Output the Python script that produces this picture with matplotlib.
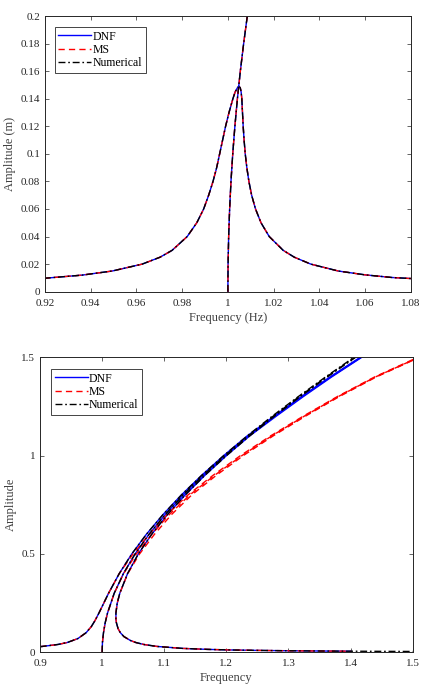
import matplotlib
matplotlib.use("Agg")
import matplotlib.pyplot as plt

plt.rcParams['font.family'] = ['Liberation Serif', 'DejaVu Serif']

# ---- top panel: weakly nonlinear response (all three methods coincide) ----
top_resp_freq = [0.9195, 0.9361, 0.9494, 0.9625, 0.9703, 0.9756, 0.9822, 0.9864,
                 0.9894, 0.9916, 0.9935, 0.9951, 0.9964, 0.9977, 0.9990, 1.0005,
                 1.0022, 1.0032, 1.0042, 1.0048, 1.0054, 1.0058, 1.0061, 1.0064,
                 1.0067, 1.0071, 1.0076, 1.0083, 1.0092, 1.0104, 1.0121, 1.0145,
                 1.0181, 1.0242, 1.0291, 1.0363, 1.0483, 1.0601, 1.0718, 1.0795,
                 1.0810]
top_resp_amp = [0.0097, 0.012, 0.015, 0.020, 0.025, 0.030, 0.040, 0.050,
                0.060, 0.070, 0.080, 0.090, 0.100, 0.110, 0.120, 0.130,
                0.140, 0.145, 0.148, 0.149, 0.148, 0.145, 0.140, 0.130,
                0.120, 0.110, 0.100, 0.090, 0.080, 0.070, 0.060, 0.050,
                0.040, 0.030, 0.025, 0.020, 0.015, 0.0122, 0.0103, 0.0096,
                0.0095]
top_bb_freq = [1.0, 1.00009, 1.00034, 1.00077, 1.00136, 1.00213, 1.00307,
               1.00417, 1.00545, 1.0069, 1.0085, 1.00937]
top_bb_amp = [0, 0.02, 0.04, 0.06, 0.08, 0.10, 0.12, 0.14, 0.16, 0.18, 0.20, 0.21]

# ---- bottom panel: strongly nonlinear response ----
num_resp_freq = [0.8997, 0.9039, 0.9291, 0.9440, 0.9610, 0.9743, 0.9824, 0.9883,
                 0.9949, 1.0026, 1.0103, 1.0275, 1.0477, 1.0712, 1.0979, 1.1276,
                 1.1603, 1.1956, 1.2334, 1.2735, 1.3157, 1.3597, 1.4054, 1.4527,
                 1.4550, 1.4080, 1.3625, 1.3189, 1.2771, 1.2375, 1.2002, 1.1655,
                 1.1337, 1.1050, 1.0797, 1.0582, 1.0409, 1.0284, 1.0243, 1.0222,
                 1.0222, 1.0230, 1.0257, 1.0293, 1.0351, 1.0456, 1.0541, 1.0669,
                 1.0880, 1.1293, 1.1691, 1.2076, 1.2450, 1.2990, 1.3587, 1.4142,
                 1.4491, 1.4907, 1.5000]
num_resp_amp = [0.0288, 0.03, 0.04, 0.05, 0.07, 0.10, 0.13, 0.16,
                0.20, 0.25, 0.30, 0.40, 0.50, 0.60, 0.70, 0.80,
                0.90, 1.00, 1.10, 1.20, 1.30, 1.40, 1.50, 1.60,
                1.60, 1.50, 1.40, 1.30, 1.20, 1.10, 1.00, 0.90,
                0.80, 0.70, 0.60, 0.50, 0.40, 0.30, 0.25, 0.20,
                0.17, 0.15, 0.12, 0.10, 0.08, 0.06, 0.05, 0.04,
                0.03, 0.02, 0.015, 0.012, 0.010, 0.008, 0.0065, 0.0055,
                0.0050, 0.0045, 0.0044]

dnf_resp_freq = [0.8997, 0.9039, 0.9291, 0.9440, 0.9610, 0.9743, 0.9824, 0.9883,
                 0.9949, 1.0026, 1.0103, 1.0275, 1.0477, 1.0712, 1.0979, 1.1276,
                 1.1603, 1.1956, 1.2334, 1.2765, 1.3207, 1.3667, 1.4154, 1.4657,
                 1.4680, 1.4180, 1.3695, 1.3239, 1.2801, 1.2375, 1.2002, 1.1655,
                 1.1337, 1.1050, 1.0797, 1.0582, 1.0409, 1.0284, 1.0243, 1.0222,
                 1.0222, 1.0230, 1.0257, 1.0293, 1.0351, 1.0456, 1.0541, 1.0669,
                 1.0880, 1.1293, 1.1691, 1.2076, 1.2450, 1.2990, 1.3587, 1.4000]
dnf_resp_amp = [0.0288, 0.03, 0.04, 0.05, 0.07, 0.10, 0.13, 0.16,
                0.20, 0.25, 0.30, 0.40, 0.50, 0.60, 0.70, 0.80,
                0.90, 1.00, 1.10, 1.20, 1.30, 1.40, 1.50, 1.60,
                1.60, 1.50, 1.40, 1.30, 1.20, 1.10, 1.00, 0.90,
                0.80, 0.70, 0.60, 0.50, 0.40, 0.30, 0.25, 0.20,
                0.17, 0.15, 0.12, 0.10, 0.08, 0.06, 0.05, 0.04,
                0.03, 0.02, 0.015, 0.012, 0.010, 0.008, 0.0065, 0.0057]

ms_resp_freq = [0.8997, 0.9039, 0.9291, 0.9440, 0.9610, 0.9743, 0.9824, 0.9883,
                0.9949, 1.0026, 1.0103, 1.0275, 1.0497, 1.0757, 1.1045, 1.1381,
                1.1786, 1.2226, 1.2710, 1.3234, 1.3785, 1.4386, 1.5084,
                1.5110, 1.4414, 1.3817, 1.3270, 1.2752, 1.2272, 1.1838,
                1.1442, 1.1116, 1.0842, 1.0602, 1.0412, 1.0284, 1.0243, 1.0222,
                1.0222, 1.0230, 1.0257, 1.0293, 1.0351, 1.0456, 1.0541, 1.0669,
                1.0880, 1.1293, 1.1691, 1.2076, 1.2450, 1.2990, 1.3587, 1.4000]
ms_resp_amp = [0.0288, 0.03, 0.04, 0.05, 0.07, 0.10, 0.13, 0.16,
               0.20, 0.25, 0.30, 0.40, 0.50, 0.60, 0.70, 0.80,
               0.90, 1.00, 1.10, 1.20, 1.30, 1.40, 1.50,
               1.50, 1.40, 1.30, 1.20, 1.10, 1.00, 0.90,
               0.80, 0.70, 0.60, 0.50, 0.40, 0.30, 0.25, 0.20,
               0.17, 0.15, 0.12, 0.10, 0.08, 0.06, 0.05, 0.04,
               0.03, 0.02, 0.015, 0.012, 0.010, 0.008, 0.0065, 0.0057]

bb_amp = [0, 0.05, 0.1, 0.15, 0.2, 0.3, 0.4, 0.5, 0.6, 0.7, 0.8, 0.9, 1.0,
          1.1, 1.2, 1.3, 1.4, 1.5, 1.6]
num_bb_freq = [1.0, 1.0005, 1.0022, 1.0049, 1.0087, 1.0194, 1.0342, 1.0530, 1.0755,
               1.1014, 1.1305, 1.1627, 1.1980, 1.2353, 1.2751, 1.3172, 1.3611,
               1.4070, 1.4539]
dnf_bb_freq = [1.0, 1.0005, 1.0022, 1.0049, 1.0087, 1.0194, 1.0342, 1.0530, 1.0755,
               1.1014, 1.1305, 1.1627, 1.1980, 1.2353, 1.2781, 1.3222, 1.3681,
               1.4170, 1.4669]
ms_bb_freq = [1.0, 1.0005, 1.0022, 1.0049, 1.0087, 1.0195, 1.0345, 1.0550, 1.0800,
              1.1080, 1.1410, 1.1810, 1.2250, 1.2730, 1.3250, 1.3800, 1.4400,
              1.5100, 1.5800]

x_top_ticks = [0.92, 0.94, 0.96, 0.98, 1.00, 1.02, 1.04, 1.06, 1.08]
x_top_labels = ['0.92', '0.94', '0.96', '0.98', '1', '1.02', '1.04', '1.06', '1.08']
y_top_ticks = [0, 0.02, 0.04, 0.06, 0.08, 0.10, 0.12, 0.14, 0.16, 0.18, 0.20]
y_top_labels = ['0', '0.02', '0.04', '0.06', '0.08', '0.1', '0.12', '0.14', '0.16', '0.18', '0.2']
x_bot_ticks = [0.9, 1.0, 1.1, 1.2, 1.3, 1.4, 1.5]
x_bot_labels = ['0.9', '1', '1.1', '1.2', '1.3', '1.4', '1.5']
y_bot_ticks = [0, 0.5, 1.0, 1.5]
y_bot_labels = ['0', '0.5', '1', '1.5']

tc = '#262626'
blue = '#0000ff'
red = '#ff0000'
lw = 1.0
ms_dash = (4.5, 3)
num_dash = (5, 2, 1.2, 2)

fig = plt.figure(figsize=(4.23, 6.97), dpi=100)
ax1 = fig.add_axes([0.1064, 0.5815, 0.8646, 0.3955])
ax2 = fig.add_axes([0.0946, 0.0641, 0.8811, 0.4233])


def style(ax, xt, xl, yt, yl):
    ax.set_xticks(xt)
    ax.set_xticklabels(xl)
    ax.set_yticks(yt)
    ax.set_yticklabels(yl)
    ax.tick_params(direction='in', length=3, width=0.5, top=True, right=True,
                   labelsize=8, colors=tc)
    ax.tick_params(axis='x', pad=5)
    ax.tick_params(axis='y', pad=3.5)
    for s in ax.spines.values():
        s.set_linewidth(0.7)
        s.set_color(tc)


def add_legend(ax, handles, labels, anchor):
    leg = ax.legend(handles, labels, loc='upper left', bbox_to_anchor=anchor,
                    borderaxespad=0, fontsize=8.5, handlelength=2.8,
                    handletextpad=0.1, labelspacing=0.12, borderpad=0.3,
                    fancybox=False, framealpha=1, edgecolor=tc)
    leg.get_frame().set_linewidth(0.6)
    return leg


# top
for f, a in [(top_resp_freq, top_resp_amp), (top_bb_freq, top_bb_amp)]:
    ax1.plot(f, a, color=blue, lw=lw, label='DNF')
    ax1.plot(f, a, color=red, lw=lw, dashes=ms_dash, label='MS')
    ax1.plot(f, a, color='k', lw=lw, dashes=num_dash, label='Numerical')
ax1.set_xlim(0.92, 1.08)
ax1.set_ylim(0, 0.2)
style(ax1, x_top_ticks, x_top_labels, y_top_ticks, y_top_labels)
ax1.set_xlabel('Frequency (Hz)', fontsize=9, color='#404040', labelpad=3)
ax1.set_ylabel('Amplitude (m)', fontsize=9, color='#404040', labelpad=3)
h, l = ax1.get_legend_handles_labels()
add_legend(ax1, h[:3], l[:3], (0.027, 0.96))

# bottom
ax2.plot(dnf_resp_freq, dnf_resp_amp, color=blue, lw=lw, label='DNF')
ax2.plot(dnf_bb_freq, bb_amp, color=blue, lw=lw)
ax2.plot(ms_resp_freq, ms_resp_amp, color=red, lw=lw, dashes=ms_dash, label='MS')
ax2.plot(ms_bb_freq, bb_amp, color=red, lw=lw, dashes=ms_dash)
ax2.plot(num_resp_freq, num_resp_amp, color='k', lw=lw, dashes=num_dash, label='Numerical')
ax2.plot(num_bb_freq, bb_amp, color='k', lw=lw, dashes=num_dash)
ax2.set_xlim(0.9, 1.5)
ax2.set_ylim(0, 1.5)
style(ax2, x_bot_ticks, x_bot_labels, y_bot_ticks, y_bot_labels)
ax2.set_xlabel('Frequency', fontsize=9, color='#404040', labelpad=3)
ax2.set_ylabel('Amplitude', fontsize=9, color='#404040', labelpad=3)
h, l = ax2.get_legend_handles_labels()
add_legend(ax2, h, l, (0.03, 0.96))

fig.savefig('out.png', dpi=100)
